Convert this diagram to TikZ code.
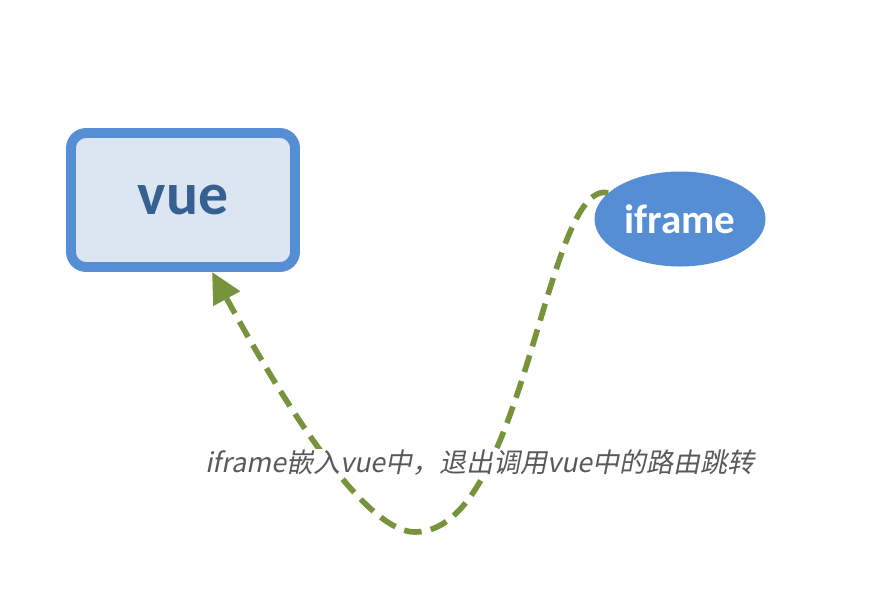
\documentclass[tikz,border=0pt]{standalone}
\usepackage{fontspec}
\setmainfont{Carlito}
\newfontfamily\cjk[FakeSlant=0.2]{Noto Sans CJK SC}
\usepackage{tikz}
\usetikzlibrary{arrows.meta,shapes.geometric}

\definecolor{boxfill}{HTML}{DCE6F2}
\definecolor{boxline}{HTML}{558ED5}
\definecolor{boxtext}{HTML}{376092}
\definecolor{linkgreen}{HTML}{77933C}
\definecolor{notegray}{HTML}{595959}

\begin{document}
\begin{tikzpicture}[x=0.03cm, y=-0.03cm,
      pagebox/.style={draw=boxline, line width=8.5pt, fill=boxfill, rounded corners=13pt,
        minimum width=224*0.03cm, minimum height=134*0.03cm,
        font=\fontsize{51}{51}\selectfont\bfseries, text=boxtext},
      framebubble/.style={ellipse, fill=boxline, minimum width=171*0.03cm, minimum height=95*0.03cm,
        font=\fontsize{35}{35}\selectfont\bfseries, text=white, inner sep=0pt},
      note/.style={fill=white, inner sep=1pt, text=notegray, font=\cjk\fontsize{23}{23}\selectfont},
      jump/.style={-{Triangle[length=26pt, width=25pt]}, line width=4.8pt, linkgreen,
        dash pattern=on 15pt off 8pt},
    ]
    \useasboundingbox (0,0) rectangle (869,604);
    \node[pagebox] (vue) at (183,200) {vue};
    \node[framebubble] (ifr) at (680,219) {iframe};
    \coordinate (dip) at (415,532);
    \draw[jump] (ifr.160) .. controls (545,178) and (525,532) .. (dip)
      .. controls (355,532) and (255,350) .. (vue.-68);
    \node[note] (lbl) at (480,463) {iframe嵌入vue中，退出调用vue中的路由跳转};
  \end{tikzpicture}
\end{document}
